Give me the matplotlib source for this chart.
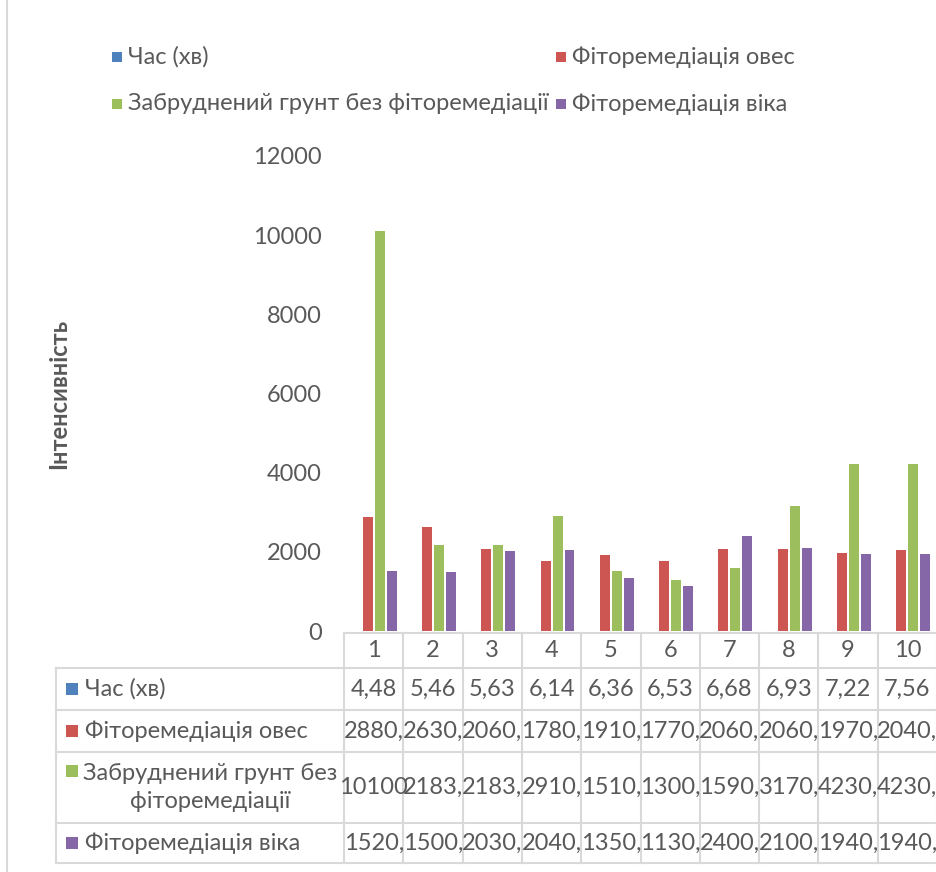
import matplotlib
matplotlib.use("Agg")
import matplotlib.pyplot as plt
from matplotlib.patches import Rectangle
from matplotlib.lines import Line2D
from matplotlib.transforms import blended_transform_factory

plt.rcParams["font.family"] = ["Lato", "DejaVu Sans"]

# ---- data ----
categories = ["1", "2", "3", "4", "5", "6", "7", "8", "9", "10"]
series_names = ["Час (хв)", "Фіторемедіація овес",
                "Забруднений грунт без фіторемедіації", "Фіторемедіація віка"]
table_names = ["Час (хв)", "Фіторемедіація овес",
               "Забруднений грунт без\nфіторемедіації", "Фіторемедіація віка"]
time_min = [4.48, 5.46, 5.63, 6.14, 6.36, 6.53, 6.68, 6.93, 7.22, 7.56]
oat = [2880, 2630, 2060, 1780, 1910, 1770, 2060, 2060, 1970, 2040]
soil = [10100, 2183, 2183, 2910, 1510, 1300, 1590, 3170, 4230, 4230]
vetch = [1520, 1500, 2030, 2040, 1350, 1130, 2400, 2100, 1940, 1940]
y_ticks = [0, 2000, 4000, 6000, 8000, 10000, 12000]
y_label = "Інтенсивність"

series = [time_min, oat, soil, vetch]
colors = ["#4F81BD", "#CD5552", "#9DBE5C", "#8567A8"]
text_color = "#595959"
grid_color = "#D9D9D9"
FS = 17

W, H = 937, 872
fig = plt.figure(figsize=(W / 100, H / 100), dpi=100)

# plot area
ax_l, ax_r, ax_t, ax_b = 344, 937, 156, 631
ax = fig.add_axes([ax_l / W, (H - ax_b) / H, (ax_r - ax_l) / W, (ax_b - ax_t) / H])
x = list(range(1, len(categories) + 1))
bar_w = 0.168
pitch = 0.202
for k, (vals, col) in enumerate(zip(series, colors)):
    off = (k - 1.5) * pitch
    ax.bar([xi + off for xi in x], vals, width=bar_w, color=col, linewidth=0)
ax.set_xlim(0.5, len(categories) + 0.5)
ax.set_ylim(0, 12000)
ax.set_yticks(y_ticks)
ax.set_yticklabels([str(t) for t in y_ticks], fontsize=FS, color=text_color)
ax.tick_params(axis="y", length=0, pad=16)
ax.set_xticks([])
for s in ax.spines.values():
    s.set_visible(False)
ax.patch.set_visible(False)
ax.set_ylabel(y_label, fontsize=FS, fontweight="bold", color=text_color)
ax.yaxis.set_label_coords((70 - ax_l) / (ax_r - ax_l), 0.5)

# overlay in pixel units for legend and data table
ov = fig.add_axes([0, 0, 1, 1])
ov.set_xlim(0, W)
ov.set_ylim(H, 0)
ov.set_axis_off()
trans = blended_transform_factory(ax.transData, ov.transData)

# outer chart border (left edge)
ov.add_line(Line2D([7.5, 7.5], [0, H], color=grid_color, lw=1.5))

# legend
leg_pos = [(112, 57), (556, 57), (112, 104), (556, 104)]
for (lx, ly), name, col in zip(leg_pos, series_names, colors):
    ov.add_patch(Rectangle((lx, ly - 5), 10, 10, color=col, lw=0))
    ov.text(lx + 16, ly, name, fontsize=FS, color=text_color, va="center", ha="left")

# data table
hdr_top, hdr_bot = 633, 668
row_edges = [668, 710, 752, 823, 863]
lab_left = 56
lw_tbl = 1.5

ov.add_line(Line2D([ax_l, W], [hdr_top, hdr_top], color=grid_color, lw=lw_tbl))
for y in row_edges:
    ov.add_line(Line2D([lab_left, W], [y, y], color=grid_color, lw=lw_tbl))
ov.add_line(Line2D([lab_left, lab_left], [row_edges[0], row_edges[-1]], color=grid_color, lw=lw_tbl))
for i in range(len(categories) + 1):
    xe = i + 0.5
    ov.add_line(Line2D([xe, xe], [hdr_top, row_edges[-1]], color=grid_color, lw=lw_tbl,
                       transform=trans))

for xi, c in zip(x, categories):
    ov.text(xi, (hdr_top + hdr_bot) / 2, c, transform=trans, fontsize=FS,
            color=text_color, ha="center", va="center")


def cell_text(v):
    return f"{v:.2f}".replace(".", ",")[:5]


for r, (name, vals, col) in enumerate(zip(table_names, series, colors)):
    y0, y1 = row_edges[r], row_edges[r + 1]
    yc = (y0 + y1) / 2
    first_line_y = yc if "\n" not in name else y0 + 19
    ov.add_patch(Rectangle((66, first_line_y - 6), 12, 12, color=col, lw=0))
    if "\n" in name:
        ov.text(210, yc, name, fontsize=FS, color=text_color, ha="center", va="center",
                multialignment="center", linespacing=1.4)
    else:
        ov.text(85, yc, name, fontsize=FS, color=text_color, ha="left", va="center")
    for xi, v in zip(x, vals):
        ov.text(xi, yc, cell_text(v), transform=trans, fontsize=FS, color=text_color,
                ha="center", va="center")

fig.savefig("out.png", dpi=100)
